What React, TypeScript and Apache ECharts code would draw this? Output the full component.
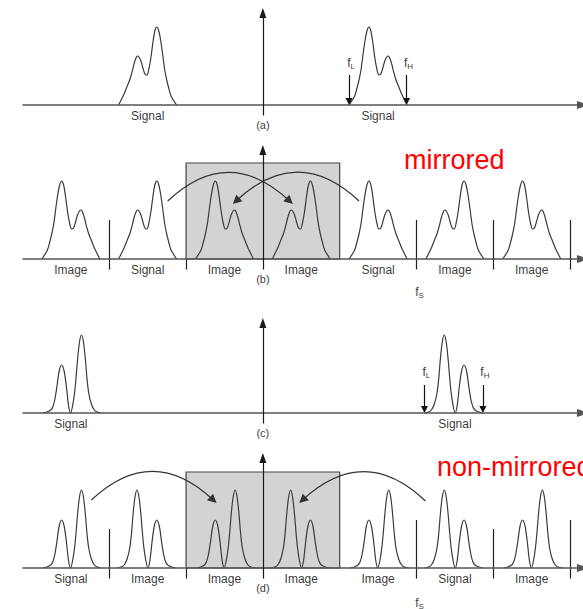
import { useEffect, useRef } from 'react';
import * as echarts from 'echarts';

const FONT = '"Liberation Sans", Arial, Helvetica, sans-serif';

// Frequency units: 1 unit ~ 1 px, origin on the vertical axis.
const fs = 155;
const xMin = -242;
const xMax = 323;

// Spectrum outline: [offset from band edge fL, height]
const profileWide: number[][] = [
  [0, 0], [2, 3], [4, 6], [6, 10], [8, 17], [10, 25], [12, 35], [14, 50], [16, 64], [18, 74],
  [20, 78], [22, 74], [24, 62], [26, 47], [28, 36], [30, 30], [32, 31], [34, 37], [36, 44],
  [38, 48], [39.5, 49], [41, 47], [43, 41], [45, 33], [47, 26], [49, 21], [51, 16], [53, 11],
  [55, 7], [57, 3], [58.5, 0],
];
const profileNarrow: number[][] = [
  [0, 0], [4, 1], [7, 3], [10, 9], [12.7, 20], [14.5, 35], [16, 53], [18, 71], [20, 78],
  [22, 71], [24, 53], [25.5, 35], [27, 20], [29, 7], [31, 0], [33, 7], [35.3, 27], [37.5, 42],
  [40, 48], [42.5, 42], [44.7, 27], [47, 13], [49, 6], [51, 3], [55, 1], [59, 0],
];

// Replicas: band-edge anchor and orientation (1 = signal order, -1 = mirrored)
const copiesA = [{ anchor: -87, dir: -1 }, { anchor: 87, dir: 1 }];
const copiesB = [
  { anchor: -223, dir: 1 }, { anchor: -87, dir: -1 }, { anchor: -68, dir: 1 }, { anchor: 68, dir: -1 },
  { anchor: 87, dir: 1 }, { anchor: 223, dir: -1 }, { anchor: 242, dir: 1 },
];
const copiesC = [{ anchor: -163, dir: -1 }, { anchor: 163, dir: 1 }];
const copiesD = [
  { anchor: -163, dir: -1 }, { anchor: -147, dir: 1 }, { anchor: -8, dir: -1 }, { anchor: 8, dir: 1 },
  { anchor: 147, dir: -1 }, { anchor: 163, dir: 1 }, { anchor: 302, dir: -1 },
];

const zoneCenters = [-193.75, -116.25, -38.75, 38.75, 116.25, 193.75, 271.25];
const labelsA = ['', 'Signal', '', '', 'Signal', '', ''];
const labelsB = ['Image', 'Signal', 'Image', 'Image', 'Signal', 'Image', 'Image'];
const labelsC = ['Signal', '', '', '', '', 'Signal', ''];
const labelsD = ['Signal', 'Image', 'Image', 'Image', 'Image', 'Signal', 'Image'];

const dividersB = [
  { x: -155, top: 39 }, { x: -77.5, top: 0 }, { x: 155, top: 39 }, { x: 232.5, top: 39 }, { x: 310, top: 39 },
];
const dividersD = [
  { x: -155, top: 39 }, { x: -77.5, top: 0 }, { x: 155, top: 48 }, { x: 232.5, top: 39 }, { x: 310, top: 48 },
];

const boxB = [-77.5, 77.5, 0, 96];
const boxD = [-77.5, 77.5, 0, 96];

const curvesB = [
  { from: [-96, 58], to: [27, 58], curveness: 0.47 },
  { from: [97, 58], to: [-27, 58], curveness: -0.47 },
];
const curvesD = [
  { from: [-173, 68], to: [-50, 68], curveness: 0.47 },
  { from: [164, 67], to: [40, 68], curveness: -0.47 },
];

const edgesA = [{ x: 87, sub: 'L' }, { x: 145, sub: 'H' }];
const edgesC = [{ x: 163, sub: 'L' }, { x: 222, sub: 'H' }];

const panels = [
  { letter: '(a)', gridTop: 13, yMax: 92, profile: profileWide, copies: copiesA, labels: labelsA,
    dividers: [] as any[], divBottom: -19, box: null as any, curves: [] as any[], edges: edgesA, edgeTop: 30, edgeLabelY: 42, fsY: null as any },
  { letter: '(b)', gridTop: 150, yMax: 109, profile: profileWide, copies: copiesB, labels: labelsB,
    dividers: dividersB, divBottom: -19, box: boxB, curves: curvesB, edges: [] as any[], edgeTop: 0, edgeLabelY: 0, fsY: -33 },
  { letter: '(c)', gridTop: 323, yMax: 90, profile: profileNarrow, copies: copiesC, labels: labelsC,
    dividers: [] as any[], divBottom: -20, box: null as any, curves: [] as any[], edges: edgesC, edgeTop: 28, edgeLabelY: 41, fsY: null as any },
  { letter: '(d)', gridTop: 458, yMax: 110, profile: profileNarrow, copies: copiesD, labels: labelsD,
    dividers: dividersD, divBottom: -20, box: boxD, curves: curvesD, edges: [] as any[], edgeTop: 0, edgeLabelY: 0, fsY: -35 },
];

const TEXT = '#000000';
const subRich = {
  f: { fontSize: 12, fontFamily: FONT, color: TEXT, lineHeight: 14 },
  s: { fontSize: 8, fontFamily: FONT, color: TEXT, lineHeight: 14, verticalAlign: 'bottom', padding: [6, 0, 0, 0] },
};

function buildOption(): any {
  const grid: any[] = [];
  const xAxis: any[] = [];
  const yAxis: any[] = [];
  const series: any[] = [];

  panels.forEach((p, i) => {
    grid.push({ left: 23, width: xMax - xMin, top: p.gridTop, height: p.yMax + 10, containLabel: false });
    xAxis.push({
      type: 'value', gridIndex: i, min: xMin, max: xMax, z: 5,
      axisLine: { show: true, onZero: true, symbol: ['none', 'triangle'], symbolSize: [8, 12], lineStyle: { color: '#555', width: 1.6 } },
      axisTick: { show: false }, axisLabel: { show: false }, splitLine: { show: false },
    });
    yAxis.push({
      type: 'value', gridIndex: i, min: -10, max: p.yMax, z: 6,
      axisLine: { show: true, onZero: true, symbol: ['none', 'triangle'], symbolSize: [7, 10], lineStyle: { color: '#1a1a1a', width: 1.2 } },
      axisTick: { show: false }, axisLabel: { show: false }, splitLine: { show: false },
    });
    const ax = { xAxisIndex: i, yAxisIndex: i };

    if (p.box) {
      series.push({
        type: 'custom', ...ax, z: 1, silent: true, clip: false, data: [p.box],
        renderItem: (_params: any, api: any) => {
          const a = api.coord([api.value(0), api.value(3)]);
          const b = api.coord([api.value(1), api.value(2)]);
          return {
            type: 'rect',
            shape: { x: a[0], y: a[1], width: b[0] - a[0], height: b[1] - a[1] },
            style: { fill: '#d3d3d3', stroke: '#444', lineWidth: 1.2 },
          };
        },
      });
    }

    p.copies.forEach((c) => {
      series.push({
        type: 'line', ...ax, z: 3, silent: true, symbol: 'none', smooth: 0.3,
        lineStyle: { color: '#3a3a3a', width: 1.2 },
        data: p.profile.map(([o, h]) => [c.anchor + c.dir * o, h]),
      });
    });

    if (p.dividers.length) {
      series.push({
        type: 'lines', coordinateSystem: 'cartesian2d', ...ax, z: 4, silent: true,
        lineStyle: { color: '#222', width: 1.2, opacity: 1 },
        data: p.dividers.map((d: any) => ({ coords: [[d.x, d.top], [d.x, p.divBottom]] })),
      });
    }

    if (p.curves.length) {
      series.push({
        type: 'lines', coordinateSystem: 'cartesian2d', ...ax, z: 4, silent: true,
        symbol: ['none', 'triangle'], symbolSize: 9,
        lineStyle: { color: '#333', width: 1.2, opacity: 1 },
        data: p.curves.map((c: any) => ({ coords: [c.from, c.to], lineStyle: { curveness: c.curveness } })),
      });
    }

    if (p.edges.length) {
      series.push({
        type: 'lines', coordinateSystem: 'cartesian2d', ...ax, z: 4, silent: true,
        symbol: ['none', 'triangle'], symbolSize: 7,
        lineStyle: { color: '#111', width: 1.2, opacity: 1 },
        data: p.edges.map((e: any) => ({ coords: [[e.x, p.edgeTop], [e.x, 3.5]] })),
      });
    }

    const textData: any[] = [];
    p.labels.forEach((t, k) => {
      if (t) textData.push({ name: t, value: [zoneCenters[k], -11] });
    });
    textData.push({ name: p.letter, value: [0, -20], label: { fontSize: 11 } });
    p.edges.forEach((e: any) => {
      textData.push({
        name: e.sub, value: [e.x + 2, p.edgeLabelY],
        label: { formatter: '{f|f}{s|' + e.sub + '}', rich: subRich },
      });
    });
    if (p.fsY !== null) {
      textData.push({
        name: 'S', value: [fs + 3, p.fsY],
        label: { formatter: '{f|f}{s|S}', rich: subRich },
      });
    }
    series.push({
      type: 'scatter', ...ax, z: 7, silent: true, clip: false, symbolSize: 0,
      itemStyle: { color: TEXT },
      label: {
        show: true, position: [0, 0], align: 'center', verticalAlign: 'middle',
        formatter: '{b}', color: TEXT, fontSize: 12, fontFamily: FONT,
      },
      data: textData,
    });
  });

  return {
    animation: false,
    backgroundColor: '#ffffff',
    grid, xAxis, yAxis, series,
    graphic: [
      { type: 'text', x: 404, y: 160, z: 10, style: { text: 'mirrored', fill: '#ff0000', font: '27px ' + FONT, verticalAlign: 'middle' } },
      { type: 'text', x: 437, y: 467, z: 10, style: { text: 'non-mirrored', fill: '#ff0000', font: '27px ' + FONT, verticalAlign: 'middle' } },
    ],
  };
}

export default function App() {
  const ref = useRef<HTMLDivElement>(null);
  useEffect(() => {
    if (!ref.current) return;
    const chart = echarts.init(ref.current, undefined, { renderer: 'svg' });
    chart.setOption(buildOption());
    return () => chart.dispose();
  }, []);
  return <div ref={ref} style={{ position: 'absolute', left: 0, top: 0, width: 583, height: 609, overflow: 'hidden' }} />;
}
